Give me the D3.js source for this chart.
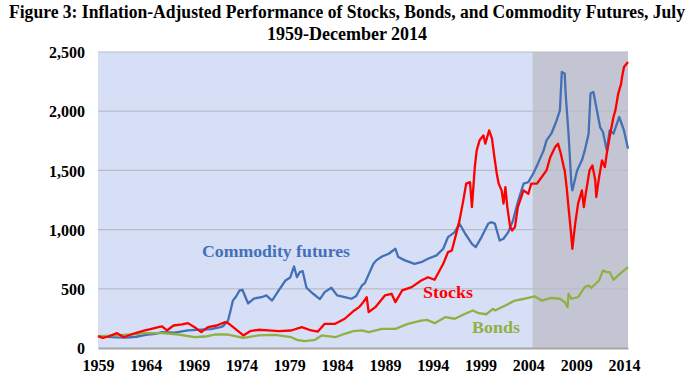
<!DOCTYPE html>
<html lang="en">

<head>
  <meta charset="UTF-8">
  <title>Figure 3</title>
  <style>
    body { margin: 0; background: #fff; }
    text { font-family: "Liberation Serif", "DejaVu Serif", serif; font-weight: bold; }
  </style>
</head>

<body>
  <script src="https://d3js.org/d3.v7.min.js"></script>

  <svg id="chart" width="698" height="379"></svg>
  <script>
    // values (index, July 1959 = 100), time as decimal year
    const commodityYears = [1959.5, 1960.5, 1961.5, 1962.5, 1963.5, 1964.5, 1965.5, 1966.2, 1967.5, 1968.9, 1970.3, 1971.3, 1972.3, 1972.6, 1973.1, 1973.4, 1973.6, 1973.9, 1974.3, 1974.6, 1975.2, 1975.8, 1976.6, 1977.1, 1977.7, 1978.4, 1979.1, 1979.6, 1980.0, 1980.3, 1980.6, 1980.9, 1981.3, 1982.0, 1982.7, 1983.2, 1983.9, 1984.5, 1985.3, 1986.0, 1986.5, 1987.1, 1987.4, 1988.3, 1988.6, 1989.2, 1989.9, 1990.6, 1990.9, 1991.6, 1992.6, 1993.3, 1994.0, 1994.9, 1995.6, 1996.1, 1996.8, 1997.3, 1997.9, 1998.6, 1999.0, 1999.6, 2000.3, 2000.6, 2001.0, 2001.5, 2001.9, 2002.4, 2002.9, 2003.4, 2004.0, 2004.5, 2005.0, 2005.5, 2006.1, 2006.4, 2006.9, 2007.4, 2007.8, 2008.0, 2008.3, 2008.4, 2008.7, 2009.0, 2009.1, 2009.6, 2010.1, 2010.4, 2010.8, 2011.0, 2011.3, 2011.6, 2012.0, 2012.3, 2012.7, 2013.0, 2013.4, 2014.0, 2014.5, 2014.92];
    const commodityValues = [100, 95, 90, 88, 95, 110, 120, 134, 130, 148, 156, 160, 176, 185, 232, 330, 400, 430, 486, 492, 376, 418, 429, 444, 401, 486, 570, 596, 689, 598, 641, 649, 509, 458, 413, 472, 509, 444, 429, 416, 440, 528, 548, 711, 740, 773, 796, 838, 768, 740, 711, 725, 754, 782, 838, 937, 979, 1050, 965, 880, 852, 937, 1050, 1063, 1050, 908, 923, 979, 1078, 1232, 1388, 1401, 1472, 1557, 1669, 1754, 1810, 1909, 2007, 2331, 2318, 2149, 1810, 1388, 1331, 1500, 1585, 1669, 1810, 2149, 2162, 2035, 1866, 1824, 1669, 1838, 1810, 1951, 1838, 1683];

    const stockYears = [1959.5, 1960.0, 1960.5, 1961.5, 1962.2, 1962.8, 1963.5, 1964.4, 1965.0, 1965.8, 1966.2, 1966.7, 1967.4, 1968.3, 1968.9, 1969.6, 1970.3, 1971.0, 1971.9, 1972.8, 1973.1, 1973.8, 1974.7, 1975.4, 1976.3, 1977.3, 1978.4, 1979.7, 1980.8, 1981.8, 1982.5, 1983.2, 1984.3, 1985.3, 1986.3, 1986.8, 1987.1, 1987.6, 1987.8, 1988.5, 1989.5, 1990.2, 1990.6, 1991.3, 1992.3, 1993.3, 1994.0, 1994.7, 1995.6, 1996.1, 1996.5, 1997.0, 1997.3, 1997.7, 1998.0, 1998.4, 1998.6, 1998.9, 1999.1, 1999.4, 1999.8, 2000.0, 2000.3, 2000.4, 2000.7, 2000.9, 2001.2, 2001.4, 2001.7, 2001.9, 2002.1, 2002.3, 2002.6, 2002.8, 2003.1, 2003.4, 2004.0, 2004.5, 2004.8, 2005.4, 2005.9, 2006.4, 2006.8, 2007.3, 2007.6, 2007.9, 2008.2, 2008.3, 2008.5, 2008.7, 2008.9, 2009.0, 2009.1, 2009.4, 2009.7, 2010.1, 2010.3, 2010.5, 2010.9, 2011.2, 2011.5, 2011.6, 2011.9, 2012.2, 2012.5, 2012.7, 2013.0, 2013.4, 2013.6, 2013.9, 2014.2, 2014.3, 2014.5, 2014.92];
    const stockValues = [100, 86, 95, 125, 91, 110, 128, 148, 160, 176, 182, 148, 190, 199, 210, 176, 134, 176, 190, 218, 210, 165, 106, 142, 154, 148, 142, 148, 176, 148, 139, 204, 204, 247, 317, 345, 373, 429, 303, 345, 444, 458, 387, 486, 514, 570, 598, 576, 711, 810, 824, 979, 1078, 1247, 1388, 1401, 1190, 1528, 1669, 1754, 1796, 1726, 1810, 1838, 1768, 1641, 1472, 1388, 1331, 1219, 1359, 1190, 1021, 993, 1021, 1190, 1331, 1303, 1388, 1388, 1444, 1500, 1613, 1697, 1726, 1641, 1528, 1500, 1359, 1190, 1021, 937, 838, 1050, 1219, 1331, 1190, 1303, 1500, 1542, 1416, 1275, 1444, 1585, 1528, 1641, 1782, 1951, 2007, 2149, 2233, 2289, 2373, 2416];

    const bondYears = [1959.5, 1961.0, 1963.0, 1964.4, 1966.2, 1967.9, 1969.6, 1970.7, 1971.7, 1973.1, 1974.7, 1976.3, 1978.0, 1979.7, 1980.3, 1981.1, 1982.2, 1982.9, 1984.3, 1985.3, 1986.2, 1987.1, 1987.8, 1989.2, 1990.6, 1991.9, 1993.3, 1993.9, 1994.7, 1995.8, 1996.8, 1997.9, 1998.7, 1999.3, 2000.1, 2000.8, 2001.0, 2002.1, 2003.1, 2004.1, 2005.2, 2005.9, 2006.9, 2007.8, 2008.3, 2008.6, 2008.7, 2009.0, 2009.7, 2010.4, 2010.8, 2011.1, 2011.9, 2012.3, 2012.7, 2013.0, 2013.4, 2013.9, 2014.5, 2014.92];
    const bondValues = [100, 105, 115, 125, 125, 114, 91, 97, 114, 114, 86, 106, 111, 91, 69, 58, 69, 106, 91, 120, 142, 148, 134, 162, 162, 204, 232, 238, 210, 260, 247, 289, 317, 294, 285, 331, 317, 359, 401, 416, 435, 401, 424, 416, 387, 345, 458, 416, 429, 514, 528, 509, 570, 655, 641, 641, 576, 613, 655, 683];

    const tickYears = [1959, 1964, 1969, 1974, 1979, 1984, 1989, 1994, 1999, 2004, 2009, 2014];
    const yTicks = [0, 500, 1000, 1500, 2000, 2500];
    const shadeStart = 2004.92;

    const svg = d3.select("svg#chart");
    const margin = { top: 52, right: 70, bottom: 31, left: 98 };
    const width = 698 - margin.left - margin.right;
    const height = 379 - margin.top - margin.bottom;

    const x = d3.scaleLinear().domain([1959.5, 2014.92]).range([margin.left, margin.left + width]);
    const y = d3.scaleLinear().domain([0, 2500]).range([margin.top + height, margin.top]);

    // title
    const title = svg.append("text")
      .attr("text-anchor", "middle")
      .style("font-size", "18px")
      .attr("fill", "#000");
    title.append("tspan").attr("x", 347).attr("y", 18)
      .attr("textLength", 676).attr("lengthAdjust", "spacingAndGlyphs")
      .text("Figure 3: Inflation-Adjusted Performance of Stocks, Bonds, and Commodity Futures, July");
    title.append("tspan").attr("x", 347).attr("y", 40)
      .text("1959-December 2014");

    // plot background + shaded region
    svg.append("rect")
      .attr("x", x(1959.5)).attr("y", y(2500))
      .attr("width", x(shadeStart) - x(1959.5)).attr("height", y(0) - y(2500))
      .attr("fill", "#d6dff6");
    svg.append("rect")
      .attr("x", x(shadeStart)).attr("y", y(2500))
      .attr("width", x(2014.92) - x(shadeStart)).attr("height", y(0) - y(2500))
      .attr("fill", "#c3c6d2");

    // gridlines
    svg.append("g")
      .selectAll("line")
      .data(yTicks.filter(d => d > 0))
      .join("line")
      .attr("x1", x(1959.5)).attr("x2", x(2014.92))
      .attr("y1", d => y(d)).attr("y2", d => y(d))
      .attr("stroke", "#b9bcc8").attr("stroke-width", 1.2);

    // y axis labels
    const yAxis = svg.append("g")
      .attr("transform", "translate(" + (margin.left - 13) + ",0)")
      .call(d3.axisLeft(y).tickValues(yTicks).tickSize(0).tickPadding(0).tickFormat(d3.format(",")));
    yAxis.select(".domain").remove();
    yAxis.selectAll("text")
      .style("font-size", "16px").style("font-family", null).attr("fill", "#000")
      .attr("dy", "0.36em");

    // x axis
    const xAxis = svg.append("g")
      .attr("transform", "translate(0," + y(0) + ")")
      .call(d3.axisBottom(x).tickValues(tickYears.map(d => d + 0.5)).tickSize(0).tickPadding(0)
        .tickFormat((d, i) => tickYears[i]));
    xAxis.select(".domain").attr("stroke", "#a6a6a6").attr("stroke-width", 2);
    xAxis.selectAll("text")
      .style("font-size", "16px").style("font-family", null).attr("fill", "#000")
      .attr("y", 23).attr("dy", 0);

    // lines
    const line = d3.line()
      .x(d => x(d[0]))
      .y(d => y(d[1]));

    const series = [
      { years: commodityYears, values: commodityValues, color: "#4470b6" },
      { years: bondYears, values: bondValues, color: "#8fb143" },
      { years: stockYears, values: stockValues, color: "#ff0000" }
    ];

    series.forEach(function (s) {
      svg.append("path")
        .datum(d3.zip(s.years, s.values))
        .attr("fill", "none")
        .attr("stroke", s.color)
        .attr("stroke-width", 2.3)
        .attr("stroke-linejoin", "round")
        .attr("d", line);
    });

    // series labels
    svg.append("text").attr("x", 202).attr("y", 257)
      .attr("textLength", 148).attr("lengthAdjust", "spacingAndGlyphs")
      .style("font-size", "17px").attr("fill", "#4470b6")
      .text("Commodity futures");
    svg.append("text").attr("x", 423).attr("y", 298)
      .attr("textLength", 50).attr("lengthAdjust", "spacingAndGlyphs")
      .style("font-size", "17px").attr("fill", "#ff0000")
      .text("Stocks");
    svg.append("text").attr("x", 472).attr("y", 333)
      .attr("textLength", 48).attr("lengthAdjust", "spacingAndGlyphs")
      .style("font-size", "17px").attr("fill", "#8fb143")
      .text("Bonds");
  </script>
</body>

</html>
